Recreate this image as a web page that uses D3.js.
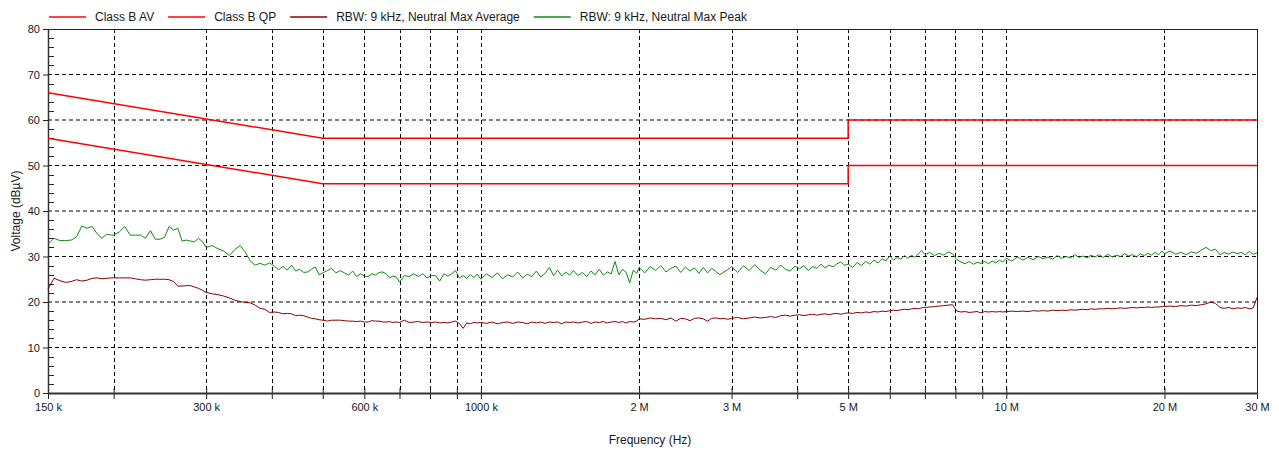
<!DOCTYPE html>
<html>
<head>
<meta charset="utf-8">
<script src="https://cdn.jsdelivr.net/npm/d3@7"></script>
<style>
  body { margin: 0; background: #fff; }
  text { font-family: Arial, "Liberation Sans", sans-serif; fill: #1a1a1a; }
</style>
</head>
<body>
<svg width="1279" height="450"></svg>
<script>
// limit lines (Hz, dBuV)
var limitFreq = [150e3, 500e3, 5e6, 5e6, 30e6];
var classBQP = [66, 56, 56, 60, 60];
var classBAV = [56, 46, 46, 50, 50];

// measured sweep, frequencies in kHz
var sweepKHz = [
  150,154,158,162,166,170,174,178,182,186,190,194,198,
  200,205,210,215,220,225,230,235,240,245,250,255,260,265,270,275,280,285,290,295,
  300,308,316,324,332,340,348,356,364,372,380,388,396,404,412,420,428,436,444,452,460,468,476,484,492,
  500,510,520,530,540,550,560,570,580,590,600,610,620,630,640,650,660,670,680,690,
  700,715,730,745,760,775,790,805,820,835,850,865,880,895,910,925,940,955,970,985,
  1000,1025,1050,1075,1100,1125,1150,1175,1200,1225,1250,1275,1300,1325,1350,1375,1400,1425,1450,1475,
  1500,1530,1560,1590,1620,1650,1680,1710,1740,1770,1800,1830,1860,1890,1920,1950,1980,
  2000,2050,2100,2150,2200,2250,2300,2350,2400,2450,2500,2550,2600,2650,2700,2750,2800,2850,2900,2950,
  3000,3080,3160,3240,3320,3400,3480,3560,3640,3720,3800,3880,3960,4040,4120,4200,4280,4360,4440,4520,4600,4680,4760,4840,4920,
  5000,5100,5200,5300,5400,5500,5600,5700,5800,5900,6000,6100,6200,6300,6400,6500,6600,6700,6800,6900,
  7000,7150,7300,7450,7600,7750,7900,8050,8200,8350,8500,8650,8800,8950,9100,9250,9400,9550,9700,9850,
  10000,10250,10500,10750,11000,11250,11500,11750,12000,12250,12500,12750,13000,13250,13500,13750,14000,14250,14500,14750,
  15000,15300,15600,15900,16200,16500,16800,17100,17400,17700,18000,18300,18600,18900,19200,19500,19800,
  20000,20500,21000,21500,22000,22500,23000,23500,24000,24500,25000,25500,26000,26500,27000,27500,28000,28500,29000,29500,30000
];

var maxPeak = [
  32.7,34.0,33.5,33.5,33.6,34.3,36.7,36.2,36.6,35.0,34.0,34.9,34.7,
  34.7,35.4,36.6,34.7,34.7,34.7,34.0,35.7,33.8,33.8,34.2,36.6,35.8,36.2,33.4,33.6,33.4,33.2,34.0,33.3,
  32.0,32.4,31.7,31.2,30.2,31.5,32.4,31.0,29.0,28.1,28.5,28.1,28.6,27.9,27.1,27.8,27.0,28.1,26.8,27.2,26.5,26.6,27.2,27.7,26.0,
  26.4,26.9,27.4,26.4,26.9,26.4,25.9,26.8,25.6,26.2,25.7,25.6,26.2,25.9,26.5,26.6,26.2,25.3,25.7,25.5,
  24.4,25.8,25.6,26.2,25.6,26.2,25.3,25.8,25.8,24.6,26.2,25.7,26.2,26.9,25.3,25.8,25.2,26.0,25.4,26.1,
  25.0,26.2,25.4,26.4,25.1,26.0,25.5,26.6,25.3,26.1,25.6,26.8,25.5,26.3,27.6,25.8,27.0,25.7,26.6,25.9,
  26.9,25.8,26.5,25.6,26.8,26.0,27.2,25.9,26.6,26.2,28.9,26.0,27.2,26.5,24.2,27.0,26.3,
  27.6,26.4,27.8,26.9,28.0,26.6,27.4,27.9,26.5,27.7,26.8,27.5,26.3,27.6,26.4,27.4,26.7,26.0,26.6,27.1,
  27.8,26.5,28.0,26.9,28.2,27.0,26.2,27.6,27.0,28.1,27.2,26.8,27.9,27.3,28.0,26.9,27.8,27.4,28.3,27.5,28.1,27.7,28.4,28.8,28.1,
  28.3,27.6,28.7,28.0,28.9,28.3,29.2,28.6,29.5,29.0,30.1,29.2,29.8,29.4,30.2,29.6,30.3,29.8,30.6,31.3,
  30.4,30.9,30.2,30.7,30.3,31.0,30.6,29.3,28.8,28.4,28.9,28.3,28.7,28.5,28.9,28.4,29.0,28.6,29.2,28.8,
  29.6,29.0,29.9,29.2,29.8,29.3,30.0,29.5,29.9,29.4,30.2,29.6,30.0,29.7,30.4,29.8,30.1,29.7,30.3,29.9,
  30.4,29.8,30.5,29.9,30.3,30.0,30.6,30.1,30.4,29.9,30.6,30.2,30.7,30.3,30.9,30.4,31.2,
  30.6,31.2,30.5,30.9,30.4,31.0,30.7,31.4,32.0,31.3,31.6,30.4,30.9,30.5,31.0,30.6,30.9,30.4,31.1,30.5,30.8
];

var maxAverage = [
  22.9,25.2,24.7,24.3,24.5,24.9,24.6,24.8,25.2,25.3,25.1,25.2,25.3,
  25.3,25.3,25.3,25.3,25.1,24.9,24.8,24.9,25.0,25.0,25.0,24.9,24.5,23.5,23.5,23.6,23.6,23.3,23.0,22.6,
  22.1,21.8,21.6,21.3,20.9,20.4,20.1,19.9,19.8,19.3,18.6,18.4,17.7,17.8,17.7,17.4,17.5,17.4,17.0,17.1,17.0,16.7,16.4,16.3,16.1,
  16.0,15.8,16.0,16.0,16.0,15.9,15.8,15.8,15.7,15.8,15.6,15.6,15.9,15.8,15.8,15.6,15.6,15.7,15.5,15.6,
  15.5,16.0,15.5,15.6,15.7,15.5,15.6,15.5,15.6,15.4,15.5,15.4,15.6,15.8,15.3,14.2,15.4,15.2,15.5,15.4,
  15.5,15.3,15.6,15.2,15.5,15.6,15.3,15.6,15.5,15.2,15.6,15.4,15.6,15.3,15.6,15.5,15.6,15.2,15.6,15.5,
  15.6,15.4,15.6,15.7,15.3,15.6,15.5,15.7,15.4,15.6,15.7,15.5,15.7,15.4,15.7,15.6,15.8,
  16.3,16.2,16.5,16.3,16.4,16.1,16.5,15.8,16.4,16.3,15.9,16.4,16.5,16.3,15.8,16.4,16.5,16.3,16.4,16.2,
  16.4,16.6,16.3,16.5,16.7,16.5,16.6,16.8,16.6,17.0,17.1,16.9,17.1,17.2,17.0,17.2,17.3,17.1,17.3,17.4,17.2,17.4,17.5,17.3,17.5,
  17.6,17.5,17.7,17.6,17.8,17.7,17.9,17.8,18.0,17.9,18.1,18.2,18.1,18.3,18.4,18.3,18.5,18.6,18.5,18.7,
  18.8,18.9,19.0,19.1,19.2,19.3,19.4,18.0,17.8,17.9,17.7,17.8,17.9,17.6,17.9,17.8,17.9,17.8,17.9,17.8,
  17.9,18.0,17.9,18.0,17.9,18.1,18.0,18.1,18.0,18.2,18.1,18.2,18.1,18.3,18.2,18.3,18.4,18.3,18.5,18.4,
  18.5,18.5,18.6,18.5,18.6,18.7,18.6,18.7,18.8,18.7,18.8,18.8,18.9,18.8,18.9,18.9,19.0,
  19.0,19.1,19.0,19.2,19.1,19.3,19.2,19.4,19.6,20.0,19.7,18.8,18.6,18.8,18.5,18.7,18.6,18.8,18.5,18.7,21.0
];

// axis ticks
var xGridTicks = [200e3,300e3,400e3,500e3,600e3,700e3,800e3,900e3,1e6,2e6,3e6,4e6,5e6,6e6,7e6,8e6,9e6,10e6,20e6];
var xAllTicks = [150e3].concat(xGridTicks, [30e6]);
var xLabelTicks = [150e3,300e3,600e3,1e6,2e6,3e6,5e6,10e6,20e6,30e6];
var xLabelText = ["150 k","300 k","600 k","1000 k","2 M","3 M","5 M","10 M","20 M","30 M"];
var yTicks = [0,10,20,30,40,50,60,70,80];
var yMinor = [2,4,6,8,12,14,16,18,22,24,26,28,32,34,36,38,42,44,46,48,52,54,56,58,62,64,66,68,72,74,76,78];

var legendNames = ["Class B AV", "Class B QP", "RBW: 9 kHz, Neutral Max Average", "RBW: 9 kHz, Neutral Max Peak"];
var legendColors = ["#ff0000", "#ff0000", "#8b0000", "#108c10"];

var W = 1279, H = 450;
var margin = {top: 29, right: 22, bottom: 57, left: 48};
var w = W - margin.left - margin.right;
var h = H - margin.top - margin.bottom;

var svg = d3.select("svg");
var g = svg.append("g").attr("transform", "translate(" + margin.left + "," + margin.top + ")");

var x = d3.scaleLog().domain([150e3, 30e6]).range([0, w]);
var y = d3.scaleLinear().domain([0, 80]).range([h, 0]);

// dashed grid
g.append("g").selectAll("line").data(xGridTicks).enter().append("line")
  .attr("x1", function(d) { return Math.round(x(d)) + 0.5; })
  .attr("x2", function(d) { return Math.round(x(d)) + 0.5; })
  .attr("y1", 0).attr("y2", h)
  .attr("stroke", "#000").attr("stroke-dasharray", "4,3");
g.append("g").selectAll("line").data(yTicks.slice(1, -1)).enter().append("line")
  .attr("x1", 0).attr("x2", w)
  .attr("y1", function(d) { return y(d); })
  .attr("y2", function(d) { return y(d); })
  .attr("stroke", "#000").attr("stroke-dasharray", "4,3");

// y minor ticks (inside)
g.append("g").selectAll("line").data(yMinor).enter().append("line")
  .attr("x1", 0).attr("x2", 6)
  .attr("y1", function(d) { return Math.round(y(d)) + 0.5; })
  .attr("y2", function(d) { return Math.round(y(d)) + 0.5; })
  .attr("stroke", "#222");

// x axis
var xAxis = d3.axisBottom(x)
  .tickValues(xAllTicks)
  .tickSize(6)
  .tickPadding(4)
  .tickFormat(function(d) {
    var i = xLabelTicks.indexOf(d);
    return i >= 0 ? xLabelText[i] : "";
  });
var gx = g.append("g").attr("transform", "translate(0," + h + ")").call(xAxis);
gx.select(".domain").remove();
gx.selectAll(".tick line").attr("y1", -5).attr("stroke", "#222");
gx.selectAll("text").style("font-size", "11px").attr("fill", "#1a1a1a");

// y axis
var yAxis = d3.axisLeft(y).tickValues(yTicks).tickSize(5).tickPadding(3);
var gy = g.append("g").call(yAxis);
gy.select(".domain").remove();
gy.selectAll(".tick line").attr("stroke", "#222");
gy.selectAll("text").style("font-size", "11px").attr("fill", "#1a1a1a");

// frame
g.append("rect").attr("x", 0.5).attr("y", 0.5).attr("width", w).attr("height", h)
  .attr("fill", "none").attr("stroke", "#222");
g.append("line").attr("x1", 0).attr("x2", w + 1).attr("y1", h + 0.5).attr("y2", h + 0.5)
  .attr("stroke", "#333").attr("stroke-width", 2);
g.append("line").attr("x1", 0.5).attr("x2", 0.5).attr("y1", 0).attr("y2", h)
  .attr("stroke", "#333").attr("stroke-width", 1.5);

// traces
var line = d3.line()
  .x(function(d) { return x(d[0]); })
  .y(function(d) { return y(d[1]); });

var sweepHz = sweepKHz.map(function(f) { return f * 1000; });
var plot = g.append("g");
plot.append("path").datum(d3.zip(sweepHz, maxAverage))
  .attr("d", line).attr("fill", "none").attr("stroke", legendColors[2]).attr("stroke-width", 1);
plot.append("path").datum(d3.zip(sweepHz, maxPeak))
  .attr("d", line).attr("fill", "none").attr("stroke", legendColors[3]).attr("stroke-width", 1);
plot.append("path").datum(d3.zip(limitFreq, classBAV))
  .attr("d", line).attr("fill", "none").attr("stroke", legendColors[0]).attr("stroke-width", 1.5);
plot.append("path").datum(d3.zip(limitFreq, classBQP))
  .attr("d", line).attr("fill", "none").attr("stroke", legendColors[1]).attr("stroke-width", 1.5);

// legend
var lx = 49;
legendNames.forEach(function(name, i) {
  var item = svg.append("g").attr("transform", "translate(" + lx + ",17)");
  item.append("line").attr("x1", 0).attr("x2", 37).attr("y1", 0).attr("y2", 0)
    .attr("stroke", legendColors[i]).attr("stroke-width", 1.5);
  var t = item.append("text").attr("x", 46).attr("y", 4).style("font-size", "12px").text(name);
  lx += 46 + t.node().getComputedTextLength() + 14;
});

// axis titles
svg.append("text")
  .attr("transform", "translate(20," + (margin.top + h / 2) + ") rotate(-90)")
  .attr("text-anchor", "middle").style("font-size", "12px")
  .text("Voltage (dBµV)");
svg.append("text")
  .attr("x", 650).attr("y", 444)
  .attr("text-anchor", "middle").style("font-size", "12px")
  .text("Frequency (Hz)");
</script>
</body>
</html>
